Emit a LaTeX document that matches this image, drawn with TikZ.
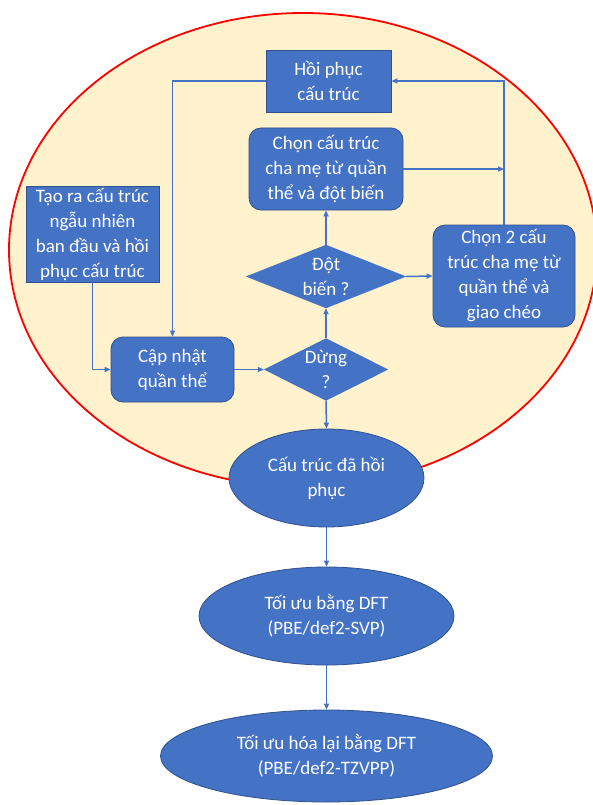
\documentclass[tikz,border=0pt]{standalone}
\usepackage{fontspec}
\setmainfont{Carlito}
\usetikzlibrary{shapes.geometric,arrows.meta}
\definecolor{boxblue}{HTML}{4472C4}
\definecolor{boxedge}{HTML}{2F528F}
\definecolor{linkblue}{HTML}{4472C4}
\definecolor{bgyellow}{HTML}{FFF2CC}
\definecolor{bigred}{HTML}{FF0000}
\tikzset{
  base/.style={fill=boxblue, draw=boxedge, line width=0.8pt, text=white, align=center,
    font=\fontsize{19}{25}\selectfont, inner sep=0pt},
  sqbox/.style={base, rectangle},
  rbox/.style={base, rectangle, rounded corners=12pt},
  oval/.style={base, ellipse},
  dmd/.style={rectangle, inner sep=0pt, draw=none},
  dmdtext/.style={text=white, align=center, font=\fontsize{19}{25}\selectfont, inner sep=0pt},
  arr/.style={draw=linkblue, line width=1.5pt, -{Triangle[length=6pt,width=5pt]}},
  ln/.style={draw=linkblue, line width=1.5pt}
}
\begin{document}
\begin{tikzpicture}[x=1pt,y=-1pt]
\useasboundingbox (0,0) rectangle (592,805);
\fill[white] (0,0) rectangle (592,805);
% big background ellipse
\draw[fill=bgyellow, draw=bigred, line width=1.8pt] (303,250) ellipse [x radius=294pt, y radius=237pt];

% nodes
\node[sqbox, minimum width=125pt, minimum height=62pt] (hp) at (328.5,81) {Hồi phục\\cấu trúc};
\node[rbox, minimum width=154pt, minimum height=82pt] (cm) at (326,169) {Chọn cấu trúc\\cha mẹ từ quần\\thể và đột biến};
\node[sqbox, minimum width=133pt, minimum height=96pt] (tr) at (92.5,234) {Tạo ra cấu trúc\\ngẫu nhiên\\ban đầu và hồi\\phục cấu trúc};
\node[rbox, minimum width=142pt, minimum height=102pt] (c2) at (504,276) {Chọn 2 cấu\\trúc cha mẹ từ\\quần thể và\\giao chéo};
\node[rbox, minimum width=123pt, minimum height=65pt] (cn) at (172.5,369.5) {Cập nhật\\quần thể};

% diamonds
\node[dmd, minimum width=160pt, minimum height=63pt] (db) at (326,276.5) {};
\fill[boxblue] (db.north) -- (db.east) -- (db.south) -- (db.west) -- cycle;
\node[dmdtext] (dbt) at (326,276.5) {Đột\\biến ?};
\node[dmd, minimum width=124pt, minimum height=62pt] (dg) at (326,369.5) {};
\fill[boxblue] (dg.north) -- (dg.east) -- (dg.south) -- (dg.west) -- cycle;
\node[dmdtext] (dgt) at (326,369.5) {Dừng\\?};

% ellipses
\node[oval, minimum width=195pt, minimum height=98pt] (e1) at (326.5,478) {Cấu trúc đã hồi\\phục};
\node[oval, minimum width=255pt, minimum height=98pt] (e2) at (326.5,616) {Tối ưu bằng DFT\\(PBE/def2-SVP)};
\node[oval, minimum width=332pt, minimum height=92pt] (e3) at (326.5,756) {Tối ưu hóa lại bằng DFT\\(PBE/def2-TZVPP)};

% connectors
\draw[arr] (hp.west) -| (cn.north);
\draw[arr] (c2.north) |- (hp.east);
\draw[arr] (cm.east) -- (cm.east -| c2.north);
\draw[arr] (db.north) -- (cm.south);
\draw[arr] (db.east) -- (c2.west);
\draw[arr] (dg.north) -- (db.south);
\draw[arr] (tr.south) |- (cn.west);
\draw[arr] (cn.east) -- (dg.west);
\draw[arr] (dg.south) -- (e1.north);
\draw[arr] (e1.south) -- (e2.north);
\draw[arr] (e2.south) -- (e3.north);
\end{tikzpicture}
\end{document}
